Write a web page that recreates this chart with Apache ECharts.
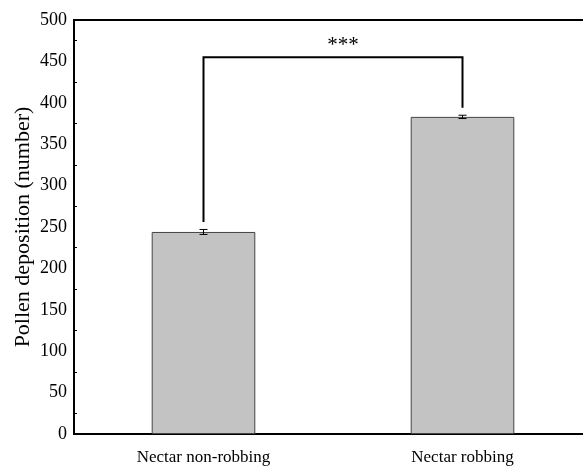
<!DOCTYPE html>
<html>
<head>
<meta charset="utf-8">
<script src="https://cdn.jsdelivr.net/npm/echarts@6/dist/echarts.min.js"></script>
<style>
  html, body { margin: 0; padding: 0; background: #fff; overflow: hidden; }
  /* the frame's right edge falls just past the window, as in the original crop */
  #chart { width: 592px; height: 466px; }
</style>
</head>
<body>
<div id="chart"></div>
<script>
const categories = ['Nectar non-robbing', 'Nectar robbing']
const means = [244, 383]
const errors = [3, 2]
// significance bracket: top level, and where each leg stops
const bracketTop = 455
const bracketLegs = [256, 394]
const sigLabel = '***'

const font = 'Liberation Serif'

const chart = echarts.init(document.getElementById('chart'))

const option = {
  animation: false,
  grid: {
    left: 74,
    right: 0,
    top: 20,
    bottom: 32,
    show: true,
    borderColor: '#000',
    borderWidth: 2
  },
  xAxis: {
    type: 'category',
    data: categories,
    axisLine: { lineStyle: { color: '#000', width: 2 } },
    axisTick: { alignWithLabel: true, length: 6, lineStyle: { color: '#000', width: 1.5 }, interval: 0 },
    axisLabel: { color: '#000', fontFamily: font, fontSize: 17, margin: 15 }
  },
  yAxis: {
    type: 'value',
    min: 0,
    max: 500,
    interval: 50,
    name: 'Pollen deposition (number)',
    nameLocation: 'middle',
    nameGap: 40,
    nameMoveOverlap: false,
    nameTextStyle: { color: '#000', fontFamily: font, fontSize: 22 },
    axisLine: { show: true, lineStyle: { color: '#000', width: 2 } },
    axisTick: { inside: true, length: 6, lineStyle: { color: '#000', width: 1.5 } },
    minorTick: { show: true, splitNumber: 2, length: 3, lineStyle: { color: '#000', width: 1 } },
    axisLabel: { color: '#000', fontFamily: font, fontSize: 18, margin: 7 },
    splitLine: { show: false }
  },
  series: [
    {
      type: 'bar',
      data: means,
      barWidth: '40%',
      itemStyle: { color: '#c3c3c3', borderColor: '#444', borderWidth: 1 }
    },
    {
      // error bars
      type: 'custom',
      data: means.map((m, i) => [i, m - errors[i], m + errors[i]]),
      renderItem: function (params, api) {
        const lo = api.coord([api.value(0), api.value(1)])
        const hi = api.coord([api.value(0), api.value(2)])
        const w = 4
        const st = { stroke: '#000', lineWidth: 1 }
        return {
          type: 'group',
          children: [
            { type: 'line', shape: { x1: lo[0], y1: lo[1], x2: hi[0], y2: hi[1] }, style: st },
            { type: 'line', shape: { x1: lo[0] - w, y1: lo[1], x2: lo[0] + w, y2: lo[1] }, style: st },
            { type: 'line', shape: { x1: hi[0] - w, y1: hi[1], x2: hi[0] + w, y2: hi[1] }, style: st }
          ]
        }
      },
      z: 5
    },
    {
      // significance bracket
      type: 'custom',
      data: [[0, bracketLegs[0], bracketLegs[1], bracketTop]],
      renderItem: function (params, api) {
        const a = api.coord([0, api.value(1)])
        const aTop = api.coord([0, api.value(3)])
        const b = api.coord([1, api.value(2)])
        const bTop = api.coord([1, api.value(3)])
        return {
          type: 'group',
          children: [
            {
              type: 'polyline',
              shape: { points: [a, aTop, bTop, b] },
              style: { stroke: '#000', lineWidth: 2, fill: null }
            },
            {
              // the stars sit a little right of the bracket's middle in the original
              type: 'text',
              x: (aTop[0] + bTop[0]) / 2 + 10,
              y: aTop[1] - 1,
              style: {
                text: sigLabel,
                fill: '#000',
                font: '21px "' + font + '"',
                textAlign: 'center',
                textVerticalAlign: 'bottom'
              }
            }
          ]
        }
      },
      z: 6
    }
  ]
}

chart.setOption(option)
</script>
</body>
</html>
